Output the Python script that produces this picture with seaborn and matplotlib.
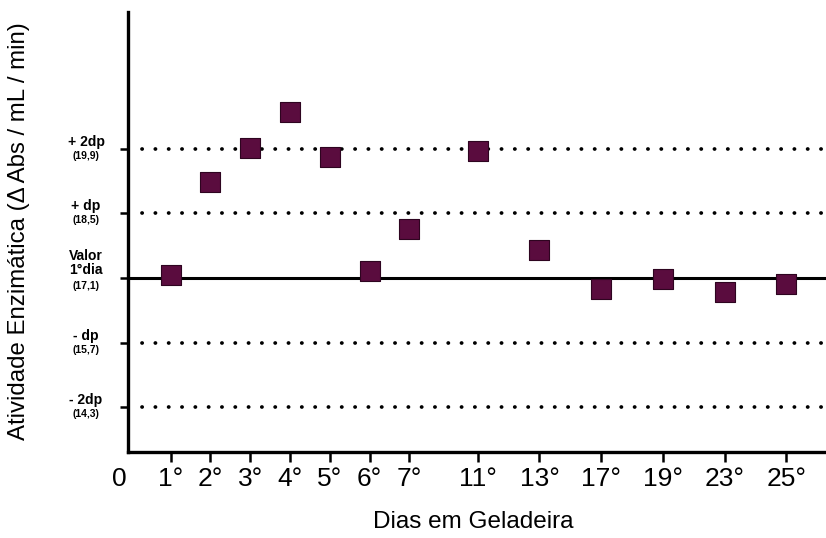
import matplotlib
matplotlib.use("Agg")
import matplotlib.pyplot as plt
import matplotlib.transforms as mtransforms
import pandas as pd
import seaborn as sns

# Days of refrigerated storage and measured enzyme activity
dias = ["1°", "2°", "3°", "4°", "5°", "6°", "7°", "11°", "13°", "17°", "19°", "23°", "25°"]
atividade = [17.17, 19.17, 19.92, 20.69, 19.73, 17.26, 18.15, 19.85, 17.70, 16.87, 17.07, 16.80, 16.97]

# Horizontal slot of each day (first week evenly spaced, later days wider)
posicao = [1, 2, 3, 4, 5, 6, 7, 8.72, 10.27, 11.82, 13.37, 14.92, 16.47]

# Reference levels: first-day value and +/- 1 and 2 standard deviations
ref_valores = [19.9, 18.5, 17.1, 15.7, 14.3]
ref_rotulos = ["+ 2dp", "+ dp", "Valor\n1°dia", "- dp", "- 2dp"]
ref_numeros = ["(19,9)", "(18,5)", "(17,1)", "(15,7)", "(14,3)"]

sns.set_theme(style="white")
plt.rcParams["font.family"] = ["Liberation Sans", "DejaVu Sans"]
plt.rcParams["text.color"] = "black"
plt.rcParams["xtick.labelcolor"] = "black"
plt.rcParams["axes.labelcolor"] = "black"

df = pd.DataFrame({"pos": posicao, "atividade": atividade, "dia": dias})

PX = 72 / 100  # one pixel in points at 100 dpi

fig = plt.figure(figsize=(8.26, 5.38), dpi=100)
fig.patch.set_facecolor("white")
ax = fig.add_axes([128 / 826, (538 - 452) / 538, 1 - 128 / 826, (452 - 12) / 538])
ax.set_facecolor("white")

# reference lines
for v in ref_valores:
    if abs(v - 17.1) < 1e-9:
        ax.axhline(v, color="black", lw=2.2, zorder=1)
    else:
        ax.axhline(v, color="black", lw=2.7, linestyle=(0, (0.05, 3.5)),
                   dash_capstyle="round", xmin=0.02, zorder=1)

sns.scatterplot(data=df, x="pos", y="atividade", marker="s", s=200,
                color="#5a0c3e", edgecolor="#2e0420", linewidth=0.8,
                ax=ax, zorder=3, legend=False)

ax.set_xlim(-0.07, 17.47)
ax.set_ylim(13.33, 22.86)

for side in ["top", "right"]:
    ax.spines[side].set_visible(False)
for side in ["left", "bottom"]:
    ax.spines[side].set_linewidth(2.4)
    ax.spines[side].set_color("black")

ax.set_xticks(posicao)
ax.set_xticklabels(dias, fontsize=19, color="black")
ax.set_yticks(ref_valores)
ax.set_yticklabels([])
ax.tick_params(axis="x", bottom=True, direction="out", length=7, width=1.8, color="black", pad=4)
ax.tick_params(axis="y", left=True, direction="out", length=6, width=1.8, color="black")
ax.set_xlabel("")
ax.set_ylabel("")

# origin label
trans_x = mtransforms.blended_transform_factory(ax.transData, ax.transAxes)
ax.annotate("0", xy=(0, 0), xycoords=trans_x, xytext=(-8, -11), textcoords="offset points",
            ha="center", va="top", fontsize=19, color="black")

# reference level labels: name line(s) above the tick, value just below
trans_y = mtransforms.blended_transform_factory(ax.transAxes, ax.transData)
cx = -42 * PX
for v, rot, num in zip(ref_valores, ref_rotulos, ref_numeros):
    linhas = rot.split("\n")
    multi = len(linhas) > 1
    base = (4 if multi else 3)
    for i, linha in enumerate(reversed(linhas)):
        ax.annotate(linha, xy=(0, v), xycoords=trans_y,
                    xytext=(cx, (base + 13.5 * i) * PX), textcoords="offset points",
                    ha="center", va="baseline", fontsize=10, fontweight="bold", color="black")
    ax.annotate(num, xy=(0, v), xycoords=trans_y,
                xytext=(cx, -(11 if multi else 10) * PX), textcoords="offset points",
                ha="center", va="baseline", fontsize=7.5, fontweight="bold", color="black")

fig.text(19 / 826, 1 - 231 / 538, "Atividade Enzimática (Δ Abs / mL / min)", rotation=90,
         ha="center", va="center", fontsize=17.3, color="black")
fig.text(473 / 826, 1 - 522 / 538, "Dias em Geladeira", ha="center", va="center",
         fontsize=17.5, color="black")

fig.savefig("out.png", dpi=100)
